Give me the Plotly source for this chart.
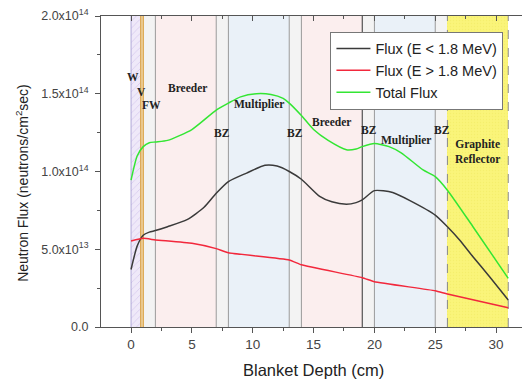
import plotly.graph_objects as go

# Data
x_low = [0, 0.5, 1.0, 1.5, 2.0, 3.0, 4.6, 6.0, 7.0, 8.0, 9.5, 11.0, 12.0, 13.0, 14.0, 15.5, 16.5, 17.7, 18.5, 19.0, 20.0, 21.5, 23.0, 25.0, 26.0, 27.0, 28.1, 29.5, 31.0]
flux_low = [0.37e14, 0.52e14, 0.59e14, 0.61e14, 0.62e14, 0.645e14, 0.69e14, 0.77e14, 0.86e14, 0.935e14, 0.99e14, 1.04e14, 1.035e14, 1.0e14, 0.95e14, 0.84e14, 0.805e14, 0.79e14, 0.80e14, 0.817e14, 0.877e14, 0.865e14, 0.81e14, 0.72e14, 0.645e14, 0.56e14, 0.452e14, 0.32e14, 0.174e14]

x_high = [0, 1.0, 2.0, 5.0, 7.0, 8.0, 13.0, 14.0, 19.0, 20.0, 25.0, 26.0, 31.0]
flux_high = [0.553e14, 0.57e14, 0.56e14, 0.538e14, 0.504e14, 0.478e14, 0.431e14, 0.40e14, 0.317e14, 0.291e14, 0.233e14, 0.212e14, 0.124e14]

x_tot = [0, 0.5, 1.0, 1.5, 2.0, 3.0, 5.0, 7.0, 8.0, 9.0, 10.3, 11.5, 12.5, 13.0, 14.0, 15.0, 16.2, 17.7, 18.5, 19.0, 20.0, 21.2, 22.2, 24.0, 25.0, 26.0, 28.1, 31.0]
flux_tot = [0.945e14, 1.10e14, 1.16e14, 1.185e14, 1.19e14, 1.20e14, 1.27e14, 1.395e14, 1.44e14, 1.48e14, 1.50e14, 1.495e14, 1.47e14, 1.44e14, 1.36e14, 1.27e14, 1.20e14, 1.14e14, 1.145e14, 1.16e14, 1.18e14, 1.16e14, 1.12e14, 1.01e14, 0.967e14, 0.88e14, 0.645e14, 0.313e14]

# Regions
reg_start = [0, 0.8, 1.0, 2.0, 7.0, 8.0, 13.0, 14.0, 19.0, 20.0, 25.0, 26.0]
reg_end = [0.8, 1.0, 2.0, 7.0, 8.0, 13.0, 14.0, 19.0, 20.0, 25.0, 26.0, 31.0]
reg_kind = ["W", "V", "FW", "Breeder", "BZ", "Multiplier", "BZ", "Breeder", "BZ", "Multiplier", "BZ", "Graphite"]
kind_color = {"W": "#efe9f9", "V": "#f6e7c8", "FW": "#f3f3f3", "Breeder": "#fbeeee",
              "BZ": "#f3f3f3", "Multiplier": "#eaf1f8", "Graphite": "#faf47a"}

label_text = ["W", "V", "FW", "Breeder", "BZ", "Multiplier", "BZ", "Breeder", "BZ", "Multiplier", "BZ", "Graphite<br>Reflector"]
label_x = [0.2, 0.85, 1.65, 4.6, 7.5, 10.5, 13.5, 16.5, 19.55, 22.6, 25.55, 28.5]
label_y = [1.61e14, 1.51e14, 1.43e14, 1.54e14, 1.25e14, 1.43e14, 1.25e14, 1.32e14, 1.27e14, 1.20e14, 1.27e14, 1.13e14]

y_tickvals = [0, 0.5e14, 1.0e14, 1.5e14, 2.0e14]
y_ticktext = ["0.0", "5.0x10<sup>13</sup>", "1.0x10<sup>14</sup>", "1.5x10<sup>14</sup>", "2.0x10<sup>14</sup>"]
x_tickvals = [0, 5, 10, 15, 20, 25, 30]

x_title = "Blanket Depth (cm)"
y_title = "Neutron Flux (neutrons/cm<sup>2</sup>sec)"

XR = [-2.47, 32.13]
YR = [0, 2.0e14]

fig = go.Figure()

# background region bars
for s, e, k in zip(reg_start, reg_end, reg_kind):
    if k == "W":
        pat = dict(shape="/", fgcolor="#b9a8e0", size=5, solidity=0.15)
    elif k == "Graphite":
        pat = dict(shape=".", fgcolor="#f0e860", size=3, solidity=0.2)
    else:
        pat = None
    fig.add_trace(go.Bar(x=[(s + e) / 2], y=[YR[1]], width=[e - s], base=0,
                         marker=dict(color=kind_color[k], line=dict(width=0), pattern=pat),
                         showlegend=False, hoverinfo="skip"))

# boundary lines (drawn as traces above the region fills)
bounds = sorted(set(reg_start + reg_end))
for b in bounds:
    if abs(b - 0.8) < 1e-6 or abs(b - 1.0) < 1e-6:
        col, dash, w = "#d9a040", "solid", 1.3
    elif abs(b) < 1e-6:
        col, dash, w = "#b0a8d8", "solid", 1
    elif abs(b - 19.0) < 1e-6:
        col, dash, w = "#333333", "solid", 1
    elif abs(b - 26.0) < 1e-6 or abs(b - 31.0) < 1e-6:
        col, dash, w = "#8a8a8a", "dash", 1
    else:
        col, dash, w = "#9a9a9a", "solid", 1
    fig.add_trace(go.Scatter(x=[b, b], y=YR, mode="lines", line=dict(color=col, width=w, dash=dash),
                             showlegend=False, hoverinfo="skip"))

fig.add_trace(go.Scatter(x=x_low, y=flux_low, mode="lines", name="Flux (E < 1.8 MeV)",
                         line=dict(color="#3a3a3a", width=1.5, shape="spline", smoothing=0.6)))
fig.add_trace(go.Scatter(x=x_high, y=flux_high, mode="lines", name="Flux (E > 1.8 MeV)",
                         line=dict(color="#f2283c", width=1.5, shape="spline", smoothing=0.4)))
fig.add_trace(go.Scatter(x=x_tot, y=flux_tot, mode="lines", name="Total Flux",
                         line=dict(color="#33e633", width=1.5, shape="spline", smoothing=0.6)))

for t, xx, yy in zip(label_text, label_x, label_y):
    fig.add_annotation(x=xx, y=yy, text="<b>" + t + "</b>", showarrow=False,
                       font=dict(family="Liberation Serif", size=11.5, color="#222222"))

# axis titles as annotations (positioned like the reference)
fig.add_annotation(xref="paper", yref="paper", x=0.505, y=-0.137, text=x_title, showarrow=False,
                   xanchor="center", yanchor="middle", font=dict(size=16.5, color="#222222"))
fig.add_annotation(xref="paper", yref="paper", x=-0.188, y=0.463, text=y_title, showarrow=False,
                   textangle=-90, xanchor="center", yanchor="middle", font=dict(size=14, color="#222222"))

fig.update_layout(
    width=522, height=380,
    margin=dict(l=101, r=0, t=16, b=53),
    paper_bgcolor="white", plot_bgcolor="white",
    barmode="overlay", bargap=0,
    font=dict(family="Liberation Sans", color="#333333"),
    legend=dict(x=0.545, y=0.95, xanchor="left", yanchor="top",
                bgcolor="white", bordercolor="#777777", borderwidth=1,
                font=dict(size=14.5, color="#222222"), tracegroupgap=0, itemwidth=34,
                traceorder="normal"),
    xaxis=dict(range=XR, automargin=False, tickvals=x_tickvals, ticks="outside", ticklen=5,
               tickcolor="#555555", showline=True, linecolor="#555555", linewidth=1,
               mirror=True, showgrid=False, zeroline=False,
               tickfont=dict(size=13.5, color="#444444"),
               minor=dict(ticks="outside", ticklen=3, dtick=2.5, tickcolor="#555555")),
    xaxis2=dict(range=XR, overlaying="x", side="top", tickvals=x_tickvals,
                ticks="inside", ticklen=5, tickcolor="#555555", showticklabels=False,
                showgrid=False, zeroline=False, automargin=False,
                minor=dict(ticks="inside", ticklen=3, dtick=2.5, tickcolor="#555555")),
    yaxis=dict(range=YR, automargin=False, tickvals=y_tickvals, ticktext=y_ticktext, ticks="outside", ticklen=5,
               tickcolor="#555555", showline=True, linecolor="#555555", linewidth=1,
               showgrid=False, zeroline=False, ticklabelstandoff=4,
               tickfont=dict(size=12.5, color="#444444"),
               minor=dict(ticks="outside", ticklen=3, dtick=0.25e14, tickcolor="#555555")),
)
fig.add_trace(go.Scatter(x=[0], y=[0], xaxis="x2", mode="markers", marker=dict(opacity=0),
                         showlegend=False, hoverinfo="skip"))

fig.write_html("out.html", config={"displayModeBar": False},
               post_script="document.body.style.margin='0';")
